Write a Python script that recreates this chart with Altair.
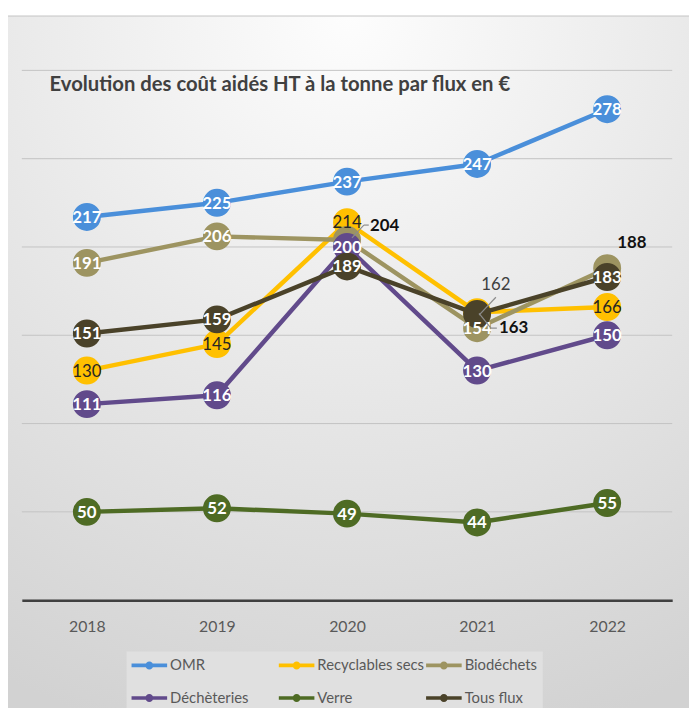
import altair as alt
import pandas as pd

# ---------------- data ----------------
years = ["2018", "2019", "2020", "2021", "2022"]
series_names = ["OMR", "Recyclables secs", "Biodéchets", "Déchèteries", "Verre", "Tous flux"]
omr = [217, 225, 237, 247, 278]
recyclables = [130, 145, 214, 163, 166]
biodechets = [191, 206, 204, 154, 188]
decheteries = [111, 116, 200, 130, 150]
verre = [50, 52, 49, 44, 55]
tous_flux = [151, 159, 189, 162, 183]
grid_values = [0, 50, 100, 150, 200, 250, 300]
title_text = "Evolution des coût aidés HT à la tonne par flux en €"

# ---------------- styles ----------------
colors = ["#4a8fda", "#ffc000", "#9d9461", "#614a8b", "#4e6b24", "#4a4229"]
label_colors = ["#ffffff", "#262626", "#ffffff", "#ffffff", "#ffffff", "#ffffff"]
label_weights = ["bold", "normal", "bold", "bold", "bold", "bold"]
# labels drawn away from their marker: (series, year) -> (dx, dy, color, weight)
moved = {
    ("Biodéchets", "2020"): (38, -14, "#111111", "bold"),
    ("Recyclables secs", "2021"): (37, 16, "#111111", "bold"),
    ("Tous flux", "2021"): (19, -29, "#404040", "normal"),
    ("Biodéchets", "2022"): (25, -25, "#111111", "bold"),
}
# leader lines (pixel offsets from the marker): (series, year) -> list of points
leaders = {
    ("Biodéchets", "2020"): [(5, -2), (17, -15), (22, -15)],
    ("Tous flux", "2021"): [(2, 1), (19, -17)],
    ("Recyclables secs", "2021"): [(2, 1), (14, 16), (20, 16)],
}
FONT = "Lato"

rows = []
for s, vals in zip(series_names, [omr, recyclables, biodechets, decheteries, verre, tous_flux]):
    for y, v in zip(years, vals):
        rows.append({"year": y, "series": s, "value": v})
df = pd.DataFrame(rows)
grid_df = pd.DataFrame({"value": grid_values})

x_enc = alt.X(
    "year:O",
    scale=alt.Scale(type="point", padding=0.5, domain=years),
    axis=alt.Axis(
        title=None, labelAngle=0, ticks=False, grid=False,
        domainColor="#404040", domainWidth=2.5, labelPadding=19,
        labelFont=FONT, labelFontSize=16, labelColor="#595959", zindex=1,
    ),
)
y_scale = alt.Scale(domain=[0, 300], nice=False, zero=True)
y_enc = alt.Y("value:Q", scale=y_scale, axis=None)

# legend symbol: a line with a dot, drawn to the right of its layout box
legend_symbol = "M-1,-0.2H3V0.2H-1Z M0.55,0A0.45,0.45,0,1,1,1.45,0A0.45,0.45,0,1,1,0.55,0Z"
color_enc = alt.Color(
    "series:N",
    scale=alt.Scale(domain=series_names, range=colors),
    legend=alt.Legend(
        title=None, orient="none", legendX=106, legendY=588, columns=3,
        direction="horizontal",
        symbolType=legend_symbol,
        symbolSize=324, symbolStrokeWidth=0, symbolOpacity=1,
        labelFont=FONT, labelFontSize=15, labelColor="#595959", labelOffset=21,
        columnPadding=2, rowPadding=16, gridAlign="all", labelLimit=300,
        fillColor="#e0e0e0", padding=5,
    ),
)

background = alt.Chart(pd.DataFrame({"a": [0]})).mark_rect(
    fill={
        "gradient": "radial",
        "stops": [{"offset": 0, "color": "#fdfdfd"}, {"offset": 1, "color": "#d2d2d2"}],
        "x1": 0.5, "y1": 0.0, "r1": 0, "x2": 0.5, "y2": 0.0, "r2": 1,
    },
    stroke="#c4c4c4", strokeWidth=1,
).encode(x=alt.value(-15), x2=alt.value(676), y=alt.value(-55), y2=alt.value(700))

grid = alt.Chart(grid_df).mark_rule(color="#c3c3c3", strokeWidth=1).encode(
    y=alt.Y("value:Q", scale=y_scale, axis=None)
)

base = alt.Chart(df)
layers = [background, grid]
for s, c in zip(series_names, colors):
    sub = base.transform_filter(alt.datum.series == s)
    layers.append(
        sub.mark_line(color=c, strokeWidth=4.5, strokeCap="round", strokeJoin="round").encode(x=x_enc, y=y_enc)
    )
    layers.append(
        sub.mark_circle(size=800, opacity=1).encode(x=x_enc, y=y_enc, color=color_enc)
    )

for s, lc, lw in zip(series_names, label_colors, label_weights):
    keep_years = [y for y in years if (s, y) not in moved]
    sub = base.transform_filter(alt.datum.series == s).transform_filter(
        alt.FieldOneOfPredicate(field="year", oneOf=keep_years)
    )
    layers.append(
        sub.mark_text(font=FONT, fontSize=17, fontWeight=lw, color=lc, baseline="middle", dy=1).encode(
            x=x_enc, y=y_enc, text="value:Q"
        )
    )

for (s, y), pts in leaders.items():
    sub = base.transform_filter((alt.datum.series == s) & (alt.datum.year == y))
    for (ax, ay), (bx, by) in zip(pts[:-1], pts[1:]):
        layers.append(
            sub.mark_rule(color="#8c8c8c", strokeWidth=1.2, xOffset=ax, yOffset=ay,
                          x2Offset=bx, y2Offset=by).encode(
                x=x_enc, y=y_enc, x2=alt.X2("year"), y2=alt.Y2("value")
            )
        )

for (s, y), (dx, dy, c, w) in moved.items():
    sub = base.transform_filter((alt.datum.series == s) & (alt.datum.year == y))
    layers.append(
        sub.mark_text(font=FONT, fontSize=17, fontWeight=w, color=c, baseline="middle", dx=dx, dy=dy).encode(
            x=x_enc, y=y_enc, text="value:Q"
        )
    )

chart = alt.layer(*layers).properties(
    width=658,
    height=536,
    padding={"left": 14, "top": 59, "right": 17, "bottom": 105},
    autosize=alt.AutoSizeParams(type="none"),
    title=alt.TitleParams(
        title_text, anchor="start", frame="group", orient="top", offset=0,
        dx=28, dy=97, baseline="alphabetic", font=FONT, fontSize=20.5,
        fontWeight="bold", color="#404040",
    ),
).configure_view(stroke=None).configure(background="#ffffff")

chart.save("out.html", embed_options={"renderer": "svg", "actions": False})
